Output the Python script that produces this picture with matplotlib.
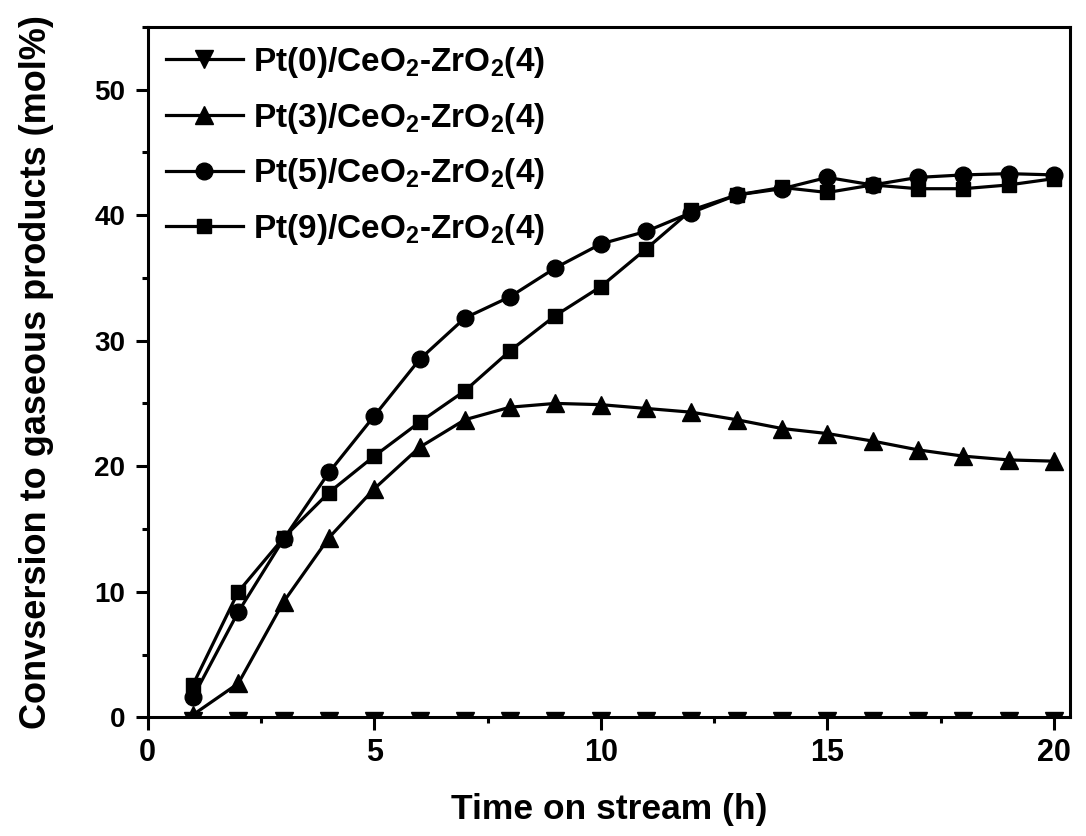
import numpy as np
import matplotlib
matplotlib.use('Agg')
import matplotlib.pyplot as plt
from matplotlib.ticker import MultipleLocator

plt.rcParams['font.family'] = ['Liberation Sans', 'DejaVu Sans']
plt.rcParams['font.weight'] = 'bold'
plt.rcParams['mathtext.fontset'] = 'custom'
plt.rcParams['mathtext.rm'] = 'Liberation Sans:bold'
plt.rcParams['mathtext.bf'] = 'Liberation Sans:bold'
plt.rcParams['mathtext.default'] = 'bf'

# Datos
t = np.arange(1, 21)
pt0 = [-0.3]*20
pt3 = [0.2, 2.7, 9.2, 14.3, 18.2, 21.5, 23.7, 24.7, 25.0, 24.9,
       24.6, 24.3, 23.7, 23.0, 22.6, 22.0, 21.3, 20.8, 20.5, 20.4]
pt5 = [1.6, 8.4, 14.2, 19.5, 24.0, 28.5, 31.8, 33.5, 35.8, 37.7,
       38.7, 40.2, 41.6, 42.1, 43.0, 42.4, 43.0, 43.2, 43.3, 43.2]
pt9 = [2.6, 10.0, 14.3, 17.9, 20.8, 23.5, 26.0, 29.2, 32.0, 34.3,
       37.3, 40.4, 41.6, 42.2, 41.8, 42.4, 42.1, 42.1, 42.4, 42.9]
labels = [r'Pt(0)/CeO$_2$-ZrO$_2$(4)', r'Pt(3)/CeO$_2$-ZrO$_2$(4)',
          r'Pt(5)/CeO$_2$-ZrO$_2$(4)', r'Pt(9)/CeO$_2$-ZrO$_2$(4)']

fig = plt.figure(figsize=(10.86, 8.36), dpi=100)
ax = fig.add_axes([0.136, 0.142, 0.849, 0.826])

lw = 2.3
ax.plot(t, pt0, '-v', color='k', lw=lw, ms=12.5, label=labels[0])
ax.plot(t, pt3, '-^', color='k', lw=lw, ms=12.5, label=labels[1])
ax.plot(t, pt5, '-o', color='k', lw=lw, ms=12, label=labels[2])
ax.plot(t, pt9, '-s', color='k', lw=lw, ms=10.5, label=labels[3])

ax.set_xlim(0, 20.35); ax.set_ylim(0, 55)
ax.xaxis.set_major_locator(MultipleLocator(5)); ax.xaxis.set_minor_locator(MultipleLocator(2.5))
ax.yaxis.set_major_locator(MultipleLocator(10)); ax.yaxis.set_minor_locator(MultipleLocator(5))
ax.tick_params(which='major', direction='out', length=9, width=2.2)
ax.tick_params(which='minor', direction='out', length=4.5, width=2.2)
ax.tick_params(axis='x', labelsize=22, pad=6)
ax.tick_params(axis='y', labelsize=20, pad=7)
ax.tick_params(top=False, right=False, which='both')
for s in ax.spines.values():
    s.set_linewidth(2.2)

ax.set_xlabel('Time on stream (h)', fontsize=25.5, fontweight='bold', labelpad=18)
ax.set_ylabel('Convsersion to gaseous products (mol%)', fontsize=26, fontweight='bold', labelpad=29)

ax.legend(loc='upper left', frameon=False, fontsize=24, handlelength=2.3,
          handletextpad=0.3, labelspacing=0.62, borderaxespad=0.35, borderpad=0.2)

fig.savefig('out.png', dpi=100)
